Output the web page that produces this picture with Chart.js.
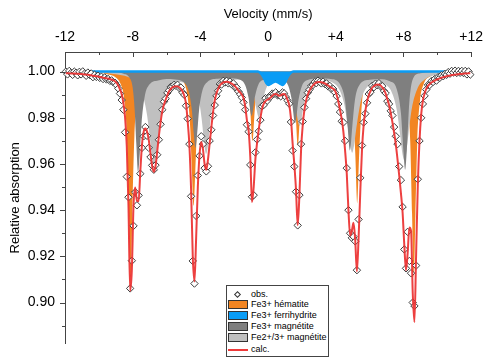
<!DOCTYPE html>
<html>
<head>
<meta charset="utf-8">
<title>Mössbauer spectrum</title>
<script src="https://cdn.jsdelivr.net/npm/chart.js@4.4.1/dist/chart.umd.min.js"></script>
<style>
  html, body { margin: 0; padding: 0; background: #fff; }
  #wrap { position: relative; width: 489px; height: 362px; }
  #legend {
    position: absolute; left: 226px; top: 285px; width: 101px; height: 70px;
    border: 1px solid #444; background: #fff;
    font: 9px "Liberation Sans", Arial, sans-serif; color: #000;
  }
  #legend .sw { position: absolute; left: 1px; width: 20px; height: 9px; box-sizing: border-box; border: 1px solid #333; }
  #legend .lab { position: absolute; left: 24px; height: 11px; line-height: 11px; white-space: nowrap; }
  #legend .dia { position: absolute; left: 8px; top: 6px; width: 5px; height: 5px; box-sizing: border-box; border: 1px solid #333; background: #fff; transform: rotate(45deg); }
  #legend .ln { position: absolute; left: 1px; top: 63px; width: 20px; height: 2px; background: #ee3a3a; }
</style>
</head>
<body>
<div id="wrap">
  <canvas id="spectrum" width="489" height="362"></canvas>
  <div id="legend">
    <div class="dia"></div><div class="lab" style="top:3px">obs.</div>
    <div class="sw" style="top:14px;background:#f28522"></div><div class="lab" style="top:13px">Fe3+ hématite</div>
    <div class="sw" style="top:25px;background:#0a9cf5"></div><div class="lab" style="top:24px">Fe3+ ferrihydrite</div>
    <div class="sw" style="top:36px;background:#7f7f7f"></div><div class="lab" style="top:35px">Fe3+ magnétite</div>
    <div class="sw" style="top:47px;background:#c0c0c0"></div><div class="lab" style="top:46px">Fe2+/3+ magnétite</div>
    <div class="ln"></div><div class="lab" style="top:58px">calc.</div>
  </div>
</div>
<script>
// channel velocities (mm/s)
const velocity = [
  -11.95,-11.85,-11.75,-11.65,-11.55,-11.45,-11.35,-11.25,-11.15,-11.05,
  -10.95,-10.85,-10.75,-10.65,-10.55,-10.45,-10.35,-10.25,-10.15,-10.05,
  -9.95,-9.85,-9.75,-9.65,-9.55,-9.45,-9.35,-9.25,-9.15,-9.05,
  -8.95,-8.85,-8.75,-8.65,-8.55,-8.45,-8.35,-8.25,-8.15,-8.05,
  -7.95,-7.85,-7.75,-7.65,-7.55,-7.45,-7.35,-7.25,-7.15,-7.05,
  -6.95,-6.85,-6.75,-6.65,-6.55,-6.45,-6.35,-6.25,-6.15,-6.05,
  -5.95,-5.85,-5.75,-5.65,-5.55,-5.45,-5.35,-5.25,-5.15,-5.05,
  -4.95,-4.85,-4.75,-4.65,-4.55,-4.45,-4.35,-4.25,-4.15,-4.05,
  -3.95,-3.85,-3.75,-3.65,-3.55,-3.45,-3.35,-3.25,-3.15,-3.05,
  -2.95,-2.85,-2.75,-2.65,-2.55,-2.45,-2.35,-2.25,-2.15,-2.05,
  -1.95,-1.85,-1.75,-1.65,-1.55,-1.45,-1.35,-1.25,-1.15,-1.05,
  -0.95,-0.85,-0.75,-0.65,-0.55,-0.45,-0.35,-0.25,-0.15,-0.05,
  0.05,0.15,0.25,0.35,0.45,0.55,0.65,0.75,0.85,0.95,
  1.05,1.15,1.25,1.35,1.45,1.55,1.65,1.75,1.85,1.95,
  2.05,2.15,2.25,2.35,2.45,2.55,2.65,2.75,2.85,2.95,
  3.05,3.15,3.25,3.35,3.45,3.55,3.65,3.75,3.85,3.95,
  4.05,4.15,4.25,4.35,4.45,4.55,4.65,4.75,4.85,4.95,
  5.05,5.15,5.25,5.35,5.45,5.55,5.65,5.75,5.85,5.95,
  6.05,6.15,6.25,6.35,6.45,6.55,6.65,6.75,6.85,6.95,
  7.05,7.15,7.25,7.35,7.45,7.55,7.65,7.75,7.85,7.95,
  8.05,8.15,8.25,8.35,8.45,8.55,8.65,8.75,8.85,8.95,
  9.05,9.15,9.25,9.35,9.45,9.55,9.65,9.75,9.85,9.95,
  10.05,10.15,10.25,10.35,10.45,10.55,10.65,10.75,10.85,10.95,
  11.05,11.15,11.25,11.35,11.45,11.55,11.65,11.75,11.85,11.95
];

// measured relative transmission
const obs = [
  1.0000,.9988,1.0003,.9994,.9986,1.0000,.9995,.9984,.9999,.9988,
  1.0001,.9991,.9982,.9996,.9986,.9992,.9976,.9986,.9977,.9982,
  .9973,.9978,.9968,.9975,.9966,.9968,.9960,.9962,.9954,.9952,
  .9941,.9927,.9905,.9877,.9835,.9737,.9545,.9456,.9061,.9181,
  .9332,.9478,.9421,.9464,.9558,.9670,.9720,.9760,.9722,.9670,
  .9630,.9594,.9575,.9595,.9640,.9705,.9772,.9835,.9870,.9883,
  .9908,.9919,.9934,.9935,.9943,.9939,.9943,.9929,.9931,.9909,
  .9899,.9852,.9796,.9686,.9460,.9180,.9082,.9375,.9550,.9635,
  .9720,.9686,.9582,.9568,.9590,.9700,.9748,.9810,.9855,.9895,
  .9917,.9946,.9944,.9960,.9953,.9960,.9949,.9957,.9945,.9949,
  .9931,.9931,.9914,.9902,.9888,.9867,.9835,.9770,.9740,.9596,
  .9458,.9465,.9650,.9706,.9742,.9790,.9850,.9856,.9885,.9874,
  .9891,.9892,.9905,.9904,.9910,.9898,.9898,.9893,.9910,.9906,
  .9890,.9875,.9861,.9782,.9658,.9589,.9480,.9334,.9465,.9686,
  .9784,.9845,.9883,.9909,.9922,.9938,.9942,.9955,.9950,.9961,
  .9956,.9949,.9957,.9947,.9949,.9936,.9938,.9924,.9925,.9910,
  .9894,.9860,.9825,.9785,.9780,.9700,.9582,.9400,.9300,.9280,
  .9285,.9265,.9140,.9360,.9540,.9680,.9780,.9818,.9865,.9903,
  .9911,.9938,.9932,.9948,.9941,.9950,.9936,.9937,.9916,.9907,
  .9872,.9860,.9830,.9810,.9760,.9720,.9686,.9589,.9530,.9414,
  .9230,.9148,.9306,.9180,.9127,.9000,.8985,.9160,.9534,.9700,
  .9800,.9860,.9895,.9922,.9942,.9942,.9959,.9955,.9968,.9961,
  .9976,.9973,.9984,.9980,.9990,.9986,.9998,.9991,1.0003,.9996,
  1.0004,.9994,1.0003,.9995,1.0003,.9994,1.0003,.9988,1.0001,.9987
];

// fitted envelope
const calc = [
  .9993,.9993,.9993,.9992,.9992,.9992,.9991,.9991,.9990,.9990,
  .9989,.9988,.9987,.9986,.9985,.9984,.9982,.9981,.9980,.9979,
  .9977,.9976,.9974,.9972,.9971,.9970,.9968,.9966,.9963,.9958,
  .9951,.9939,.9923,.9902,.9865,.9802,.9678,.9421,.9051,.9141,
  .9422,.9498,.9441,.9439,.9568,.9683,.9740,.9754,.9740,.9704,
  .9646,.9591,.9566,.9591,.9654,.9723,.9782,.9829,.9858,.9879,
  .9898,.9915,.9925,.9932,.9935,.9937,.9936,.9932,.9925,.9914,
  .9895,.9862,.9784,.9682,.9493,.9200,.9091,.9280,.9500,.9640,
  .9695,.9665,.9600,.9575,.9620,.9690,.9760,.9825,.9875,.9905,
  .9925,.9940,.9948,.9953,.9955,.9956,.9955,.9952,.9948,.9943,
  .9936,.9928,.9918,.9910,.9900,.9885,.9850,.9790,.9745,.9630,
  .9435,.9500,.9620,.9690,.9750,.9800,.9840,.9862,.9872,.9878,
  .9882,.9888,.9895,.9901,.9903,.9900,.9895,.9897,.9902,.9903,
  .9895,.9878,.9855,.9800,.9690,.9600,.9490,.9335,.9460,.9660,
  .9770,.9835,.9875,.9900,.9918,.9930,.9940,.9948,.9953,.9955,
  .9955,.9954,.9952,.9949,.9945,.9940,.9935,.9930,.9926,.9918,
  .9900,.9872,.9835,.9795,.9740,.9660,.9560,.9400,.9290,.9310,
  .9345,.9270,.9135,.9280,.9480,.9660,.9770,.9830,.9870,.9897,
  .9915,.9930,.9937,.9942,.9944,.9943,.9940,.9932,.9922,.9905,
  .9880,.9855,.9820,.9780,.9735,.9685,.9620,.9550,.9475,.9390,
  .9250,.9140,.9215,.9325,.9310,.9040,.8915,.9210,.9510,.9700,
  .9815,.9875,.9905,.9925,.9938,.9946,.9953,.9957,.9961,.9965,
  .9968,.9971,.9974,.9976,.9978,.9980,.9982,.9983,.9985,.9986,
  .9987,.9988,.9989,.9990,.9990,.9991,.9992,.9992,.9993,.9993
];

// sub-spectra: Fe3+ hematite sextet
const hemVel = [-12,-10.5,-9.5,-9,-8.7,-8.5,-8.35,-8.22,-8.12,-8.02,-7.9,-7.7,-7.4,-7,-6,-5.3,-5,-4.75,-4.6,-4.5,-4.4,-4.3,-4.2,-4.05,-3.8,-3.4,-2.5,-1.8,-1.4,-1.2,-1.05,-0.92,-0.79,-0.64,-0.44,0,0.8,1.2,1.45,1.63,1.76,1.89,2.07,2.4,3,3.8,4.5,4.8,5,5.15,5.27,5.39,5.55,5.8,6.3,7,7.6,8,8.25,8.4,8.51,8.61,8.71,8.82,8.97,9.2,9.6,10.5,12];
const hemVal = [.9998,.9997,.9989,.9975,.9944,.9880,.9734,.9384,.9110,.9384,.9717,.9899,.9963,.9983,.9991,.9978,.9957,.9889,.9756,.9569,.9420,.9569,.9756,.9889,.9957,.9984,.9994,.9990,.9973,.9933,.9829,.9700,.9829,.9933,.9973,.9990,.9990,.9977,.9939,.9817,.9680,.9817,.9939,.9983,.9993,.9992,.9979,.9947,.9866,.9652,.9428,.9652,.9866,.9958,.9984,.9988,.9979,.9949,.9868,.9700,.9384,.9110,.9384,.9700,.9868,.9946,.9980,.9994,.9998];

// Fe3+ ferrihydrite doublet
const ferVel = [-12,-0.6,-0.45,-0.3,-0.18,-0.08,0.02,0.15,0.3,0.44,0.58,0.73,0.86,0.96,1.06,1.18,1.33,1.5,12];
const ferVal = [1,1,.9994,.9980,.9962,.9948,.9942,.9947,.9954,.9957,.9954,.9947,.9942,.9948,.9962,.9980,.9994,1,1];

// Fe3+ magnetite (A site) sextet
const magAVel = [-12,-9,-8.5,-8.2,-8,-7.88,-7.78,-7.68,-7.58,-7.48,-7.3,-7,-6.5,-6,-5.5,-5,-4.7,-4.5,-4.39,-4.29,-4.19,-4.08,-3.88,-3.6,-3,-2.3,-1.7,-1.35,-1.17,-0.97,-0.77,-0.55,-0.2,0.3,0.9,1.2,1.4,1.6,1.8,2,2.3,3,3.8,4.3,4.55,4.7,4.84,4.98,5.13,5.4,6,6.6,7.2,7.6,7.85,8,8.1,8.2,8.35,8.6,9,9.6,12];
const magAVal = [.9999,.9996,.9990,.9975,.9930,.9830,.9680,.9567,.9648,.9772,.9888,.9945,.9962,.9968,.9966,.9955,.9918,.9830,.9732,.9670,.9732,.9830,.9918,.9954,.9969,.9971,.9966,.9941,.9893,.9808,.9893,.9947,.9965,.9969,.9963,.9938,.9878,.9778,.9878,.9938,.9963,.9970,.9967,.9939,.9875,.9763,.9658,.9763,.9875,.9942,.9965,.9967,.9958,.9925,.9822,.9655,.9575,.9661,.9870,.9975,.9993,.9997,.9999];

// Fe2+/3+ magnetite (B site) sextet
const magBVel = [-12,-10,-9,-8.3,-7.9,-7.6,-7.35,-7.15,-6.95,-6.84,-6.74,-6.64,-6.5,-6.3,-6,-5.6,-5.2,-4.8,-4.4,-4.1,-3.9,-3.76,-3.66,-3.56,-3.4,-3.2,-2.9,-2.5,-2.1,-1.7,-1.3,-1,-0.85,-0.7,-0.55,-0.4,-0.25,-0.05,0.3,0.8,1.26,1.46,1.66,1.76,1.86,1.96,2.06,2.26,2.46,2.86,3.3,3.8,4.2,4.5,4.7,4.87,4.97,5.07,5.25,5.5,5.9,6.4,6.9,7.3,7.6,7.8,7.95,8.05,8.15,8.3,8.5,8.8,9.3,10,11,12];
const magBVal = [.9998,.9995,.9989,.9978,.9961,.9932,.9884,.9811,.9690,.9621,.9595,.9621,.9708,.9822,.9907,.9948,.9955,.9950,.9938,.9881,.9780,.9679,.9644,.9678,.9792,.9888,.9942,.9960,.9964,.9966,.9958,.9932,.9899,.9842,.9802,.9838,.9893,.9938,.9960,.9962,.9944,.9910,.9835,.9787,.9764,.9787,.9835,.9910,.9944,.9962,.9960,.9953,.9924,.9860,.9768,.9677,.9649,.9676,.9772,.9877,.9937,.9953,.9945,.9912,.9836,.9729,.9640,.9616,.9641,.9730,.9842,.9922,.9968,.9986,.9994,.9997];

// axis ticks
const velTicks = [-12, -8, -4, 0, 4, 8, 12];
const velMinor = [-10, -6, -2, 2, 6, 10];
const absTicks = [0.90, 0.92, 0.94, 0.96, 0.98, 1.00];
const absMinor = [0.89, 0.91, 0.93, 0.95, 0.97, 0.99];

const pts = (xs, ys) => xs.map((x, i) => ({ x: x, y: ys[i] }));

Chart.defaults.font.family = '"Liberation Sans", Arial, sans-serif';
Chart.defaults.color = '#000';

// short tick marks: inward on the top axis, outward on the left one
const axisTicks = {
  id: 'axisTicks',
  afterDraw(chart) {
    const { ctx, chartArea: a, scales: { x, y } } = chart;
    ctx.save();
    ctx.strokeStyle = '#444';
    ctx.lineWidth = 1;
    ctx.beginPath();
    velTicks.forEach(v => {
      const px = Math.round(x.getPixelForValue(v)) + 0.5;
      ctx.moveTo(px, a.top); ctx.lineTo(px, a.top + 5);
    });
    velMinor.forEach(v => {
      const px = Math.round(x.getPixelForValue(v)) + 0.5;
      ctx.moveTo(px, a.top); ctx.lineTo(px, a.top + 3);
    });
    absTicks.forEach(v => {
      const py = Math.round(y.getPixelForValue(v)) + 0.5;
      ctx.moveTo(a.left, py); ctx.lineTo(a.left - 5, py);
    });
    absMinor.forEach(v => {
      const py = Math.round(y.getPixelForValue(v)) + 0.5;
      ctx.moveTo(a.left, py); ctx.lineTo(a.left - 3, py);
    });
    ctx.stroke();
    ctx.restore();
  }
};

const sub = (label, data, color, order, width) => ({
  label: label,
  data: data,
  backgroundColor: color,
  borderColor: color,
  borderWidth: width,
  pointRadius: 0,
  fill: { value: 1 },
  cubicInterpolationMode: 'monotone',
  order: order
});

new Chart(document.getElementById('spectrum'), {
  type: 'line',
  data: {
    datasets: [
      {
        label: 'calc.',
        data: pts(velocity, calc),
        borderColor: 'rgba(236,48,48,0.92)',
        borderWidth: 2,
        pointRadius: 0,
        fill: false,
        cubicInterpolationMode: 'monotone',
        order: 0
      },
      {
        label: 'obs.',
        data: pts(velocity, obs),
        showLine: false,
        pointStyle: 'rectRot',
        pointRadius: 3.7,
        pointBorderWidth: 1,
        pointBorderColor: '#3c3c3c',
        pointBackgroundColor: '#fff',
        clip: false,
        order: 1
      },
      sub('Fe3+ ferrihydrite', pts(ferVel, ferVal), '#0a9cf5', 2, 2.5),
      sub('Fe3+ magnétite', pts(magAVel, magAVal), '#7f7f7f', 3, 0),
      sub('Fe2+/3+ magnétite', pts(magBVel, magBVal), '#c0c0c0', 4, 0),
      sub('Fe3+ hématite', pts(hemVel, hemVal), '#f28522', 5, 0)
    ]
  },
  options: {
    responsive: false,
    animation: false,
    events: [],
    layout: { padding: { left: 0, top: 0, right: 14, bottom: 5 } },
    plugins: { legend: { display: false }, tooltip: { enabled: false } },
    scales: {
      x: {
        type: 'linear',
        position: 'top',
        min: -12,
        max: 12,
        afterFit: s => { s.height = 52; },
        afterBuildTicks: s => { s.ticks = velTicks.map(v => ({ value: v })); },
        grid: { display: false, drawTicks: false },
        border: { display: true, color: '#444', width: 1 },
        ticks: {
          padding: 6,
          maxRotation: 0,
          autoSkip: false,
          font: { size: 14 },
          callback: v => (v > 0 ? '+' + v : String(v))
        },
        title: { display: true, text: 'Velocity (mm/s)', font: { size: 13 }, padding: { top: 7, bottom: 0 } }
      },
      y: {
        type: 'linear',
        position: 'left',
        min: 0.8822,
        max: 1.0085,
        afterFit: s => { s.width = 65; },
        afterBuildTicks: s => { s.ticks = absTicks.map(v => ({ value: v })); },
        grid: { display: false, drawTicks: false },
        border: { display: true, color: '#444', width: 1 },
        ticks: { padding: 10, font: { size: 14 }, callback: v => v.toFixed(2) },
        title: { display: true, text: 'Relative absorption', font: { size: 13 }, padding: { top: 8, bottom: 0 } }
      }
    }
  },
  plugins: [axisTicks]
});
</script>
</body>
</html>
